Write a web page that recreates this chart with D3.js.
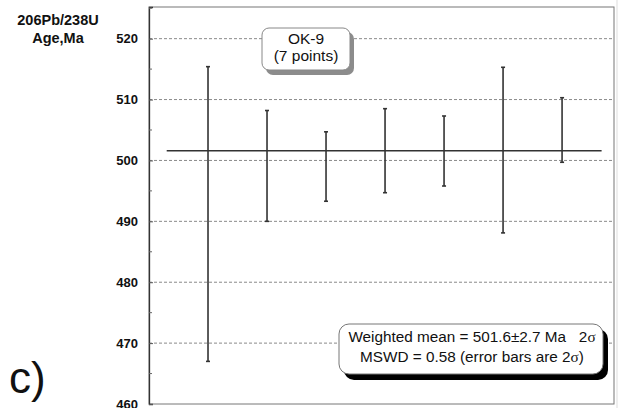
<!DOCTYPE html>
<html>
<head>
<meta charset="utf-8">
<script src="https://cdn.jsdelivr.net/npm/d3@7"></script>
<style>
  body { margin: 0; background: #fff; }
  svg { display: block; font-family: "Liberation Sans", Arial, sans-serif; }
</style>
</head>
<body>
<svg id="chart" width="622" height="408"></svg>
<script>
// spot ages (Ma) and 2-sigma errors
var spots = [1, 2, 3, 4, 5, 6, 7];
var ages = [491.2, 499.1, 499.0, 501.6, 501.55, 501.7, 505.0];
var errs = [24.2, 9.1, 5.7, 6.9, 5.75, 13.6, 5.3];
var meanAge = 501.6;
var majorTicks = [460, 470, 480, 490, 500, 510, 520];
var minorTicks = [465, 475, 485, 495, 505, 515, 525];

var svg = d3.select('#chart');

var x = d3.scaleLinear().domain([0, 7.88]).range([149, 614]);
var y = d3.scaleLinear().domain([460, 525.2]).range([404, 7]);

// gridlines
svg.append('g').selectAll('line').data(majorTicks.slice(1))
  .enter().append('line')
  .attr('x1', x(0)).attr('x2', x(7.88))
  .attr('y1', d => y(d)).attr('y2', d => y(d))
  .attr('stroke', '#8a8a8a').attr('stroke-width', 1)
  .attr('stroke-dasharray', '3,2');

// frame
svg.append('rect')
  .attr('x', x(0)).attr('y', y(525.2))
  .attr('width', x(7.88) - x(0)).attr('height', y(460) - y(525.2))
  .attr('fill', 'none').attr('stroke', '#777').attr('stroke-width', 1);
svg.append('line')
  .attr('x1', x(7.88) + 3).attr('x2', x(7.88) + 3)
  .attr('y1', 0).attr('y2', 408)
  .attr('stroke', '#ddd');

// y axis
var yAxis = d3.axisLeft(y).tickValues(majorTicks).tickSize(-4).tickPadding(11);
var ga = svg.append('g')
  .attr('transform', 'translate(' + x(0) + ',0)')
  .call(yAxis);
ga.select('.domain').attr('stroke', '#333').attr('stroke-width', 1.3);
ga.selectAll('.tick line').attr('stroke', '#555');
ga.selectAll('.tick text')
  .attr('font-family', '"Liberation Sans", Arial, sans-serif')
  .attr('font-size', 13).attr('font-weight', 'bold').attr('fill', '#111');

svg.append('g').selectAll('line').data(minorTicks)
  .enter().append('line')
  .attr('x1', x(0)).attr('x2', x(0) + 3)
  .attr('y1', d => y(d)).attr('y2', d => y(d))
  .attr('stroke', '#666');

// axis title
var title = svg.append('text')
  .attr('x', 58).attr('y', 25)
  .attr('text-anchor', 'middle')
  .attr('font-size', 14.5).attr('font-weight', 'bold').attr('fill', '#111');
title.append('tspan').attr('x', 58).attr('y', 25).text('206Pb/238U');
title.append('tspan').attr('x', 58).attr('y', 43).text('Age,Ma');

// mean line
svg.append('line')
  .attr('x1', x(0.3)).attr('x2', x(7.67))
  .attr('y1', y(meanAge)).attr('y2', y(meanAge))
  .attr('stroke', '#333').attr('stroke-width', 1.6);

// error bars
var bars = svg.append('g').selectAll('g').data(spots)
  .enter().append('g');
bars.append('line')
  .attr('x1', d => x(d)).attr('x2', d => x(d))
  .attr('y1', (d, i) => y(ages[i] + errs[i]))
  .attr('y2', (d, i) => y(ages[i] - errs[i]))
  .attr('stroke', '#333').attr('stroke-width', 1.6);
bars.append('line')
  .attr('x1', d => x(d) - 2).attr('x2', d => x(d) + 2)
  .attr('y1', (d, i) => y(ages[i] + errs[i]))
  .attr('y2', (d, i) => y(ages[i] + errs[i]))
  .attr('stroke', '#333').attr('stroke-width', 1.6);
bars.append('line')
  .attr('x1', d => x(d) - 2).attr('x2', d => x(d) + 2)
  .attr('y1', (d, i) => y(ages[i] - errs[i]))
  .attr('y2', (d, i) => y(ages[i] - errs[i]))
  .attr('stroke', '#333').attr('stroke-width', 1.6);

// sample label box
svg.append('rect')
  .attr('x', 266).attr('y', 32).attr('width', 88).attr('height', 43)
  .attr('rx', 7).attr('fill', '#8c8c8c');
svg.append('rect')
  .attr('x', 262).attr('y', 28).attr('width', 88).attr('height', 42)
  .attr('rx', 7).attr('fill', '#fff').attr('stroke', '#888').attr('stroke-width', 1);
svg.append('text').attr('x', 306).attr('y', 44)
  .attr('text-anchor', 'middle').attr('font-size', 15.5).attr('fill', '#111')
  .text('OK-9');
svg.append('text').attr('x', 306).attr('y', 61)
  .attr('text-anchor', 'middle').attr('font-size', 15.5).attr('fill', '#111')
  .text('(7 points)');

// result box
svg.append('rect')
  .attr('x', 344).attr('y', 329).attr('width', 264).attr('height', 51)
  .attr('rx', 10).attr('fill', '#000');
svg.append('rect')
  .attr('x', 339).attr('y', 324).attr('width', 264).attr('height', 50)
  .attr('rx', 10).attr('fill', '#fff').attr('stroke', '#777').attr('stroke-width', 1);
var t1 = svg.append('text').attr('x', 472).attr('y', 342)
  .attr('text-anchor', 'middle').attr('font-size', 15.3).attr('fill', '#111')
  .attr('xml:space', 'preserve');
t1.append('tspan').text('Weighted mean = ' + meanAge + '\u00b12.7 Ma   2');
t1.append('tspan').attr('font-family', '"Liberation Serif", "Times New Roman", serif').text('\u03c3');
var t2 = svg.append('text').attr('x', 472).attr('y', 362)
  .attr('text-anchor', 'middle').attr('font-size', 15.3).attr('fill', '#111');
t2.append('tspan').text('MSWD = 0.58 (error bars are 2');
t2.append('tspan').attr('font-family', '"Liberation Serif", "Times New Roman", serif').text('\u03c3');
t2.append('tspan').text(')');

// panel letter
svg.append('text').attr('x', 9).attr('y', 393)
  .attr('font-size', 44).attr('fill', '#111').text('c)');
</script>
</body>
</html>
